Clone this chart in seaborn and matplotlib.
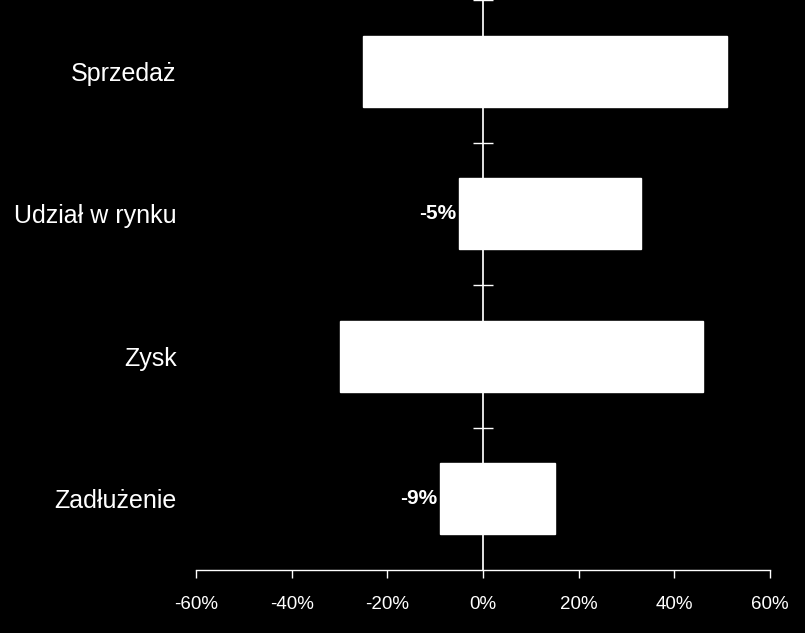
import seaborn as sns
import matplotlib.pyplot as plt
from matplotlib.ticker import FuncFormatter

# data (percent)
categories = ['Sprzedaż', 'Udział w rynku', 'Zysk', 'Zadłużenie']
low = [-25, -5, -30, -9]
high = [51, 33, 46, 15]
low_labels = ['', '-5%', '', '-9%']
x_ticks = [-60, -40, -20, 0, 20, 40, 60]

sns.set_theme(style='dark')
plt.rcParams['font.family'] = ['Liberation Sans', 'DejaVu Sans']
plt.rcParams['axes.unicode_minus'] = False

fig = plt.figure(figsize=(8.05, 6.33), dpi=100, facecolor='black')
ax = fig.add_axes([196 / 805, 63 / 633, 574 / 805, 570 / 633])
ax.set_facecolor('black')

# floating bars = positive part + negative part, both white
sns.barplot(x=high, y=categories, color='white', width=0.5,
            saturation=1, ax=ax, zorder=3)
sns.barplot(x=low, y=categories, color='white', width=0.5,
            saturation=1, ax=ax, zorder=3)
ax.bar_label(ax.containers[1], labels=low_labels, padding=2,
             color='white', fontsize=15, fontweight='bold')

ax.set_xlim(x_ticks[0], x_ticks[-1])
ax.set_ylim(len(categories) - 0.5, -0.5)
ax.set_xticks(x_ticks)
ax.xaxis.set_major_formatter(FuncFormatter(lambda v, p: f'{v:.0f}%'))
ax.tick_params(axis='x', colors='white', labelsize=13.5, direction='out',
               length=6, width=1, bottom=True, pad=13)
ax.tick_params(axis='y', colors='white', labelsize=18, length=0, pad=14)
ax.set_xlabel('')
ax.set_ylabel('')
ax.grid(False)

for side in ['left', 'right', 'top']:
    ax.spines[side].set_visible(False)
ax.spines['bottom'].set_color('white')
ax.spines['bottom'].set_linewidth(1)

# vertical axis at 0 with category-boundary ticks
zero_axis = ax.secondary_yaxis((0 - x_ticks[0]) / (x_ticks[-1] - x_ticks[0]))
zero_axis.set_yticks([i - 0.5 for i in range(len(categories))])
zero_axis.set_yticklabels([])
zero_axis.tick_params(direction='inout', length=14, width=1, colors='white',
                      labelleft=False, labelright=False)
zero_axis.spines['left'].set_color('white')
zero_axis.spines['left'].set_linewidth(1)
zero_axis.spines['left'].set_zorder(1)

fig.savefig('out.png', dpi=100, facecolor='black')
